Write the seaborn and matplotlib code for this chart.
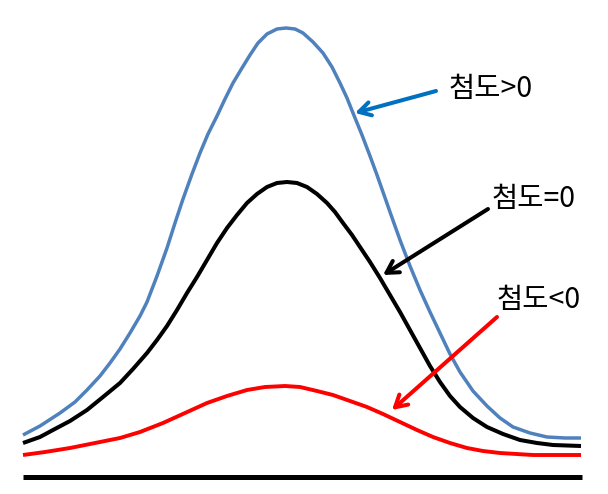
import matplotlib
matplotlib.use("Agg")
import matplotlib.pyplot as plt
import seaborn as sns

# Points (horizontal position, row from the top)
pos_x = [23, 40, 60, 75, 87, 100, 110, 120, 130, 140, 147, 157, 167, 175, 183, 192,
         200, 208, 217, 225, 233, 242, 250, 258, 267, 277, 286, 295, 303, 313, 323,
         332, 340, 347, 353, 362, 370, 377, 383, 390, 395, 400, 410, 420, 430, 440,
         450, 460, 473, 487, 500, 513, 530, 547, 565, 581]
pos_y = [435, 426, 413, 402, 390, 376, 363, 349, 333, 316, 302, 276, 248, 223, 199, 174,
         153, 134, 116, 99, 83, 68, 55, 43, 34, 29, 28, 29, 33, 42, 53,
         67, 83, 98, 113, 135, 156, 175, 192, 212, 226, 240, 266, 290, 312, 333,
         354, 372, 391, 406, 418, 427, 433, 437, 438, 438]

zero_x = [23, 40, 53, 70, 87, 103, 120, 133, 147, 157, 167, 177, 187, 197, 207, 217,
          227, 237, 247, 257, 267, 277, 287, 297, 307, 317, 327, 335, 343, 352, 360,
          370, 380, 390, 400, 410, 420, 430, 440, 450, 460, 473, 487, 503, 520, 537,
          553, 581]
zero_y = [443, 437, 430, 421, 410, 397, 383, 369, 353, 340, 326, 310, 293, 277, 260, 243,
          228, 215, 203, 194, 187, 183, 182, 183, 187, 194, 203, 212, 223, 235, 247,
          262, 278, 295, 312, 330, 348, 366, 382, 396, 407, 418, 427, 434, 440, 443,
          445, 446]

neg_x = [23, 45, 70, 95, 120, 140, 163, 185, 207, 227, 247, 265, 285, 300, 317, 333,
         350, 367, 383, 400, 417, 433, 450, 467, 483, 500, 533, 581]
neg_y = [455, 452, 448, 443, 438, 432, 423, 413, 403, 396, 390, 387, 386, 387, 391, 395,
         401, 407, 414, 422, 430, 437, 443, 448, 451, 453, 455, 455]

base_x = [23, 582]
base_y = [477, 477]

labels = ["첨도>0", "첨도=0", "첨도<0"]

sns.set_theme(style="white")
plt.rcParams['font.family'] = ['Noto Sans CJK KR', 'DejaVu Sans']

fig = plt.figure(figsize=(6.08, 4.94), dpi=100)
ax = fig.add_axes([0, 0, 1, 1])

sns.lineplot(x=pos_x, y=pos_y, ax=ax, color="#4F81BD", linewidth=2.5, sort=False)
sns.lineplot(x=zero_x, y=zero_y, ax=ax, color="black", linewidth=2.9, sort=False)
sns.lineplot(x=neg_x, y=neg_y, ax=ax, color="#FF0000", linewidth=2.8, sort=False)
sns.lineplot(x=base_x, y=base_y, ax=ax, color="black", linewidth=3.6, sort=False)
for ln in ax.lines:
    ln.set_solid_joinstyle("round")
    ln.set_solid_capstyle("butt")

ax.set_xlim(0, 608)
ax.set_ylim(494, 0)
ax.axis("off")

arrow_kw = dict(arrowstyle="->,head_length=0.7,head_width=0.4", lw=2.9,
                shrinkA=0, shrinkB=0)
ax.annotate("", xy=(355, 113), xytext=(436, 91),
            arrowprops=dict(color="#0070C0", **arrow_kw))
ax.annotate("", xy=(383, 275), xytext=(488, 209),
            arrowprops=dict(color="black", **arrow_kw))
ax.annotate("", xy=(392, 410), xytext=(497, 317),
            arrowprops=dict(color="#FF0000", **arrow_kw))

ax.text(449, 89, labels[0], fontsize=20.5, ha="left", va="center", color="black")
ax.text(492, 199, labels[1], fontsize=20.5, ha="left", va="center", color="black")
ax.text(497, 300, labels[2], fontsize=20.5, ha="left", va="center", color="black")

fig.savefig("out.png", dpi=100)
